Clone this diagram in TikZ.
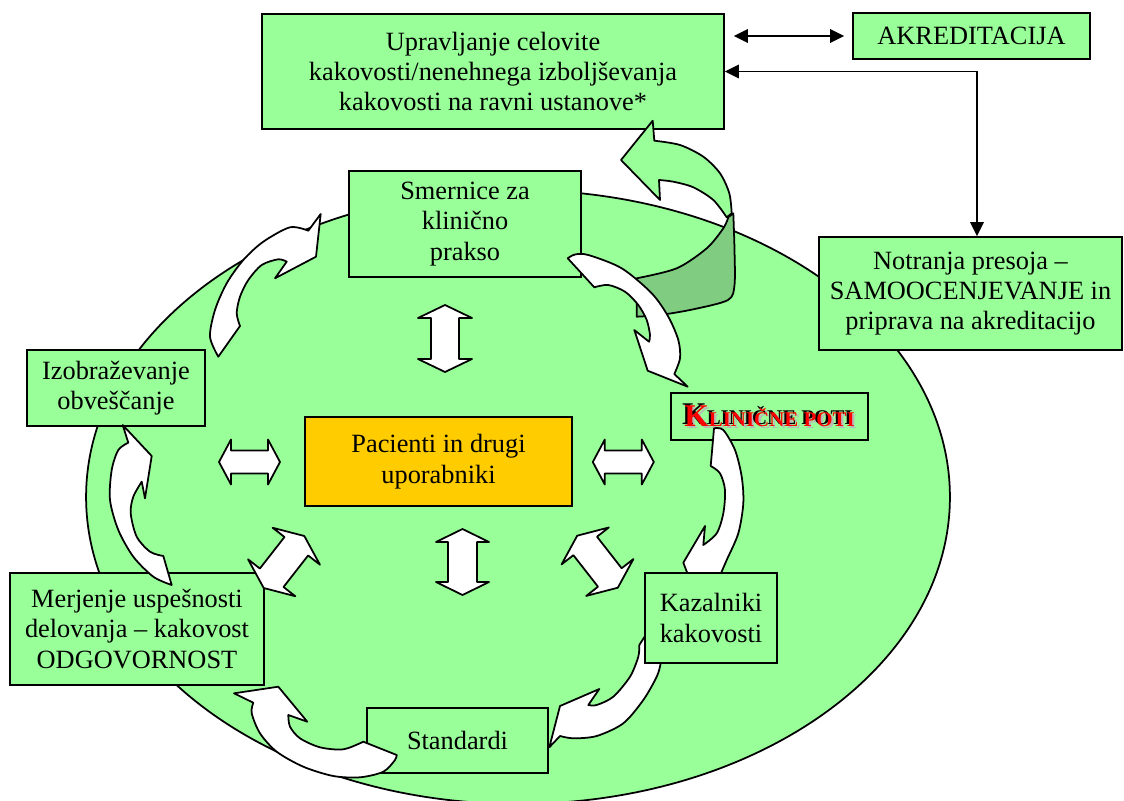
\documentclass[tikz,border=0pt]{standalone}
\usepackage{fontspec}
\setmainfont{Liberation Serif}
\usetikzlibrary{arrows.meta}
\definecolor{boxgreen}{RGB}{153,255,153}
\definecolor{patientgold}{RGB}{255,204,0}
\definecolor{ribbonside}{RGB}{128,204,128}
\tikzset{
  box/.style={draw, fill=boxgreen, line width=1pt, align=center, inner sep=0pt,
    font=\fontsize{15}{17.3}\selectfont},
  curvarrow/.style={draw, fill=white, line width=1pt, line join=round},
  link/.style={line width=1pt, >={Triangle[length=0.28cm,width=0.27cm]}},
  pics/dblarrow/.style n args={4}{code={
    \draw[curvarrow] (-#1,0) -- (-#1+#4,#2) -- (-#1+#4,#3) -- (#1-#4,#3) -- (#1-#4,#2)
      -- (#1,0) -- (#1-#4,-#2) -- (#1-#4,-#3) -- (-#1+#4,-#3) -- (-#1+#4,-#2) -- cycle;
  }}
}
\newcommand{\kpname}{\textbf{{\fontsize{18}{20}\selectfont K}{\fontsize{11.9}{13}\selectfont LINIČNE POTI}}}

\begin{document}
\begin{tikzpicture}[x=0.02cm, y=-0.02cm]
  \useasboundingbox (0,0) rectangle (1124,800);
  %oval
  \draw[fill=boxgreen, line width=1pt] (518,497) ellipse [x radius=8.64cm, y radius=6.14cm];
  %boxes
  \node[box, minimum width=9.24cm, minimum height=2.3cm] (mgmt) at (493,71.5)
    {Upravljanje celovite\\kakovosti/nenehnega izboljševanja\\kakovosti na ravni ustanove*};
  \node[box, minimum width=4.74cm, minimum height=0.92cm] (akred) at (971.5,36) {AKREDITACIJA};
  \node[box, minimum width=6.06cm, minimum height=2.26cm] (notranja) at (970.5,293.5)
    {Notranja presoja –\\SAMOOCENJEVANJE in\\priprava na akreditacijo};
  \node[box, minimum width=4.64cm, minimum height=2.12cm] (smernice) at (465,224)
    {Smernice za\\klinično\\prakso};
  \node[box, minimum width=3.56cm, minimum height=1.52cm] (izob) at (116,388)
    {Izobraževanje\\obveščanje};
  \node[box, fill=patientgold, minimum width=5.34cm, minimum height=1.78cm] (pacienti) at (438.5,461.5)
    {Pacienti in drugi\\uporabniki};
  \node[box, minimum width=3.94cm, minimum height=0.94cm] (klinicne) at (769.5,416.5)
    {\rlap{\kern1.3pt\raisebox{-1.3pt}{\color{gray!55}\kpname}}\rlap{\kern-1.2pt\raisebox{0.9pt}{\color{black}\kpname}}{\color{red}\kpname}};
  \node[box, minimum width=5.08cm, minimum height=2.24cm] (merjenje) at (137,629)
    {Merjenje uspešnosti\\delovanja – kakovost\\ODGOVORNOST};
  \node[box, minimum width=3.62cm, minimum height=1.3cm] (standardi) at (457.5,740.5) {Standardi};
  %curved arrows right side
  \draw[curvarrow] (683.3,562.7) -- (705,526) -- (703.3,545)
    -- plot[smooth] coordinates {(703.3,545) (716.7,533.3) (723.3,513.3) (725,490) (720,473.3) (710.7,466)}
    -- (714,428.3)
    -- plot[smooth] coordinates {(714,428.3) (723.3,430) (735,450) (741.7,476.7) (743.3,503.3) (738.3,533.3) (726.7,560) (718,580)}
    -- (690,580) -- cycle;
  \draw[curvarrow] (549.3,747.3) -- (560,706) -- (599.3,689) -- (588.3,705)
    -- plot[smooth] coordinates {(588.3,705) (596.7,705) (613.3,696.7) (630,676.7) (638.3,656.7) (639.3,645)}
    -- (645,636) -- (663,650)
    -- plot[smooth] coordinates {(663,650) (660.7,663.3) (656.7,676.7) (643.3,700) (623.3,723.3) (596.7,736) (573.3,738.3) (560,736)}
    -- cycle;
  \node[box, minimum width=2.64cm, minimum height=1.8cm] (kazalniki) at (711,618) {Kazalniki\\kakovosti};
  %green ribbon arrow
  \draw[fill=ribbonside, line width=1pt, line join=round] (636.7,278.3)
    -- plot[smooth] coordinates {(636.7,278.3) (676.7,268.3) (706.7,248.3) (723.3,228.3) (728.3,217.3)}
    -- (733.3,213.3)
    -- plot[smooth] coordinates {(733.3,213.3) (734.5,250) (734.5,285) (728,300) (693.3,309.3) (660,315) (636.7,316.7)}
    -- cycle;
  \draw[fill=boxgreen, line width=1pt, line join=round] (621,160) -- (652.7,120.7) -- (654.3,140.7)
    -- plot[smooth] coordinates {(654.3,140.7) (680,145) (703.3,156.7) (720,173.3) (729.3,193.3) (731.7,213.3)}
    -- (726.7,217.3)
    -- plot[smooth] coordinates {(726.7,217.3) (713.3,200) (693.3,187.3) (673.3,181.7) (659,180)}
    -- (660,200) -- cycle;
  %curved arrows
  \draw[curvarrow] (320.7,214) -- (316,256.7) -- (275,278.3) -- (286.7,261.7)
    -- plot[smooth] coordinates {(286.7,261.7) (278.3,259.3) (261.7,265) (248.3,280) (240,296.7) (236.7,313.3) (240,326)}
    -- (218.3,356.7)
    -- plot[smooth] coordinates {(218.3,356.7) (210,336.7) (215,310) (226.7,283.3) (243.3,260) (263.3,241.7) (290,227.3) (308.3,230.7)}
    -- cycle;
  \draw[curvarrow] (687.7,386.7) -- (647.7,370.7) -- (634.3,330) -- (649,341.7)
    -- plot[smooth] coordinates {(649,341.7) (650,335) (646.7,320) (638.3,305) (625,291.7) (608.3,285) (594.3,287.3)}
    -- (567.7,258.3)
    -- plot[smooth] coordinates {(567.7,258.3) (575,254.5) (588.3,255) (621.7,268.3) (651.7,293.3) (668.3,316.7) (678.3,340) (680,358.3) (674.3,374)}
    -- cycle;
  \draw[curvarrow] (234,693.3) -- (278.3,686.7) -- (307.3,721.7) -- (288.3,715)
    -- plot[smooth] coordinates {(288.3,715) (290,726.7) (300,738.3) (320,747.3) (343.3,749.3) (363.3,741.7)}
    -- (396.7,755)
    -- plot[smooth] coordinates {(396.7,755) (395,760) (383.3,771.7) (360,777.3) (333.3,776) (303.3,766.7) (276.7,751.7) (260,733.3) (251.7,713.3) (253.3,702.7)}
    -- cycle;
  \draw[curvarrow] (122.7,425) -- (151.7,456) -- (145,498.3) -- (141.7,481.7)
    -- plot[smooth] coordinates {(141.7,481.7) (133.3,496.7) (130.7,513.3) (136.7,536.7) (150,551.7) (163.3,556)}
    -- (171.7,585)
    -- plot[smooth] coordinates {(171.7,585) (153.3,576.7) (133.3,556.7) (118.3,530) (110,500) (111.7,470) (118.3,450) (128.3,442.7)}
    -- cycle;
  %double block arrows round the patients
  \pic[rotate=90] at (445,338.5) {dblarrow={33.5}{27}{14}{13}};
  \pic[rotate=90] at (462.5,562) {dblarrow={33}{26.5}{14.5}{13}};
  \pic at (249.5,462) {dblarrow={30.5}{22.5}{11.5}{12}};
  \pic at (623.3,462) {dblarrow={30.5}{22.5}{11.5}{12}};
  \pic[rotate=52] at (284,562) {dblarrow={33}{30}{15}{13}};
  \pic[rotate=-52] at (597.5,561.7) {dblarrow={33}{30}{15}{13}};
  %links to accreditation
  \coordinate (turn) at (977,71.5);
  \draw[link, <->, shorten <=0.18cm, shorten >=0.16cm] (mgmt.east |- akred.west) -- (akred.west);
  \draw[link, <->] (mgmt.east) -- (turn) -- (turn |- notranja.north);
\end{tikzpicture}
\end{document}
